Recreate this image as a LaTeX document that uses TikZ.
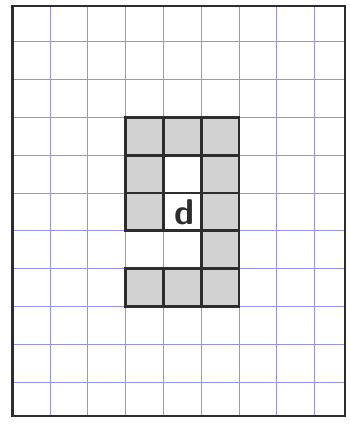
\documentclass[tikz,border=0pt]{standalone}
\usepackage{xcolor}
\usepackage{tikz}
\usetikzlibrary{positioning}

\definecolor{gridblue}{RGB}{150,145,235}
\definecolor{pencil}{RGB}{45,45,45}
\tikzset{
  cellbox/.style={fill=gray!35, draw=pencil, line width=2pt},
  holebox/.style={fill=white, draw=pencil, line width=2pt},
  letter/.style={font=\sffamily\bfseries\fontsize{27}{27}\selectfont, text=pencil, inner sep=0pt}
}

\begin{document}
\begin{tikzpicture}
\useasboundingbox (-0.323,-0.164) rectangle (8.91,11.106);
\begin{scope}
\draw[step=1, gridblue, line width=0.5pt] (0,0.1) grid (8.8,10.95);
\draw[pencil, line width=2pt] (0,0.1) rectangle (8.8,10.95);
\end{scope}
\begin{scope}
% shaded cells of the figure
\foreach \cx/\cy in {3/7,4/7,5/7, 3/6,5/6, 3/5,5/5, 5/4, 3/3,4/3,5/3}
  \draw[cellbox] (\cx,\cy) rectangle ++(1,1);
% the two empty cells
\draw[holebox] (4,6) rectangle ++(1,1);
\draw[holebox] (4,5) rectangle ++(1,1);
\node[letter] (d) at (4.55,5.5) {d};
\end{scope}
\end{tikzpicture}
\end{document}
